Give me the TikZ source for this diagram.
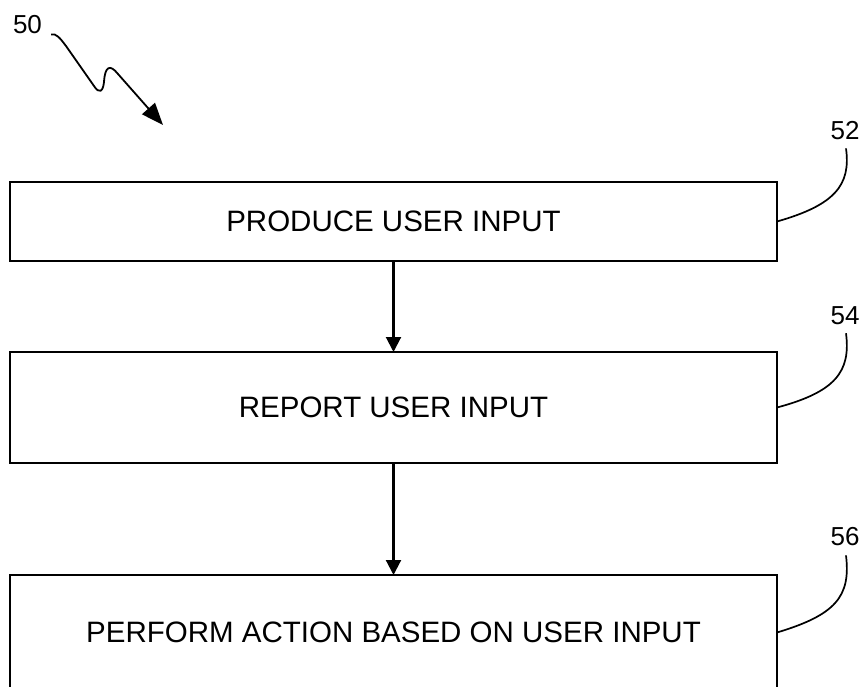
\documentclass[tikz,border=0pt]{standalone}
\usepackage{fontspec}
\setmainfont{Liberation Sans}
\usetikzlibrary{arrows.meta}
\begin{document}
\begin{tikzpicture}[x=1pt,y=-1pt,
  stepbox/.style={draw,line width=2.3pt,inner sep=0pt,outer sep=0pt,minimum width=767pt,
    font=\fontsize{29.5}{35}\selectfont},
  flowarrow/.style={line width=2.1pt,-{Triangle[length=15pt,width=15pt]}},
  leader/.style={line width=1.7pt},
  reflabel/.style={inner sep=0pt,font=\fontsize{26}{30}\selectfont}]
\path[fill=white] (0,0) rectangle (867,687);
\clip (0,0) rectangle (867,687);
\node[stepbox,minimum height=79pt] (b1) at (393.5,221.5) {PRODUCE USER INPUT};
\node[stepbox,minimum height=111pt] (b2) at (393.5,407.5) {REPORT USER INPUT};
\node[stepbox,minimum height=115pt] (b3) at (393.5,632.5) {PERFORM ACTION BASED ON USER INPUT};
\draw[flowarrow] (b1) -- (b2);
\draw[flowarrow] (b2) -- (b3);
\node[reflabel] (l50) at (27.5,24.5) {50};
\node[reflabel] (l52) at (845,131) {52};
\node[reflabel] (l54) at (845,316) {54};
\node[reflabel] (l56) at (845,537) {56};
\draw[leader] (b1.east) .. controls (835,205) and (851,185) .. ([shift={(1pt,-8pt)}]l52.south);
\draw[leader] (b2.east) .. controls (835,392) and (851,372) .. ([shift={(1pt,-8pt)}]l54.south);
\draw[leader] (b3.east) .. controls (835,615) and (851,597) .. ([shift={(1pt,-9pt)}]l56.south);
\coordinate (s0) at ([shift={(9pt,-10pt)}]l50.east);
\coordinate (tip) at (163,125);
\draw[line width=1.8pt,-{Triangle[length=22pt,width=17pt]}]
  (s0) .. controls (56,33) and (60,38) .. (66,46) -- (94,86)
  .. controls (99,94) and (103,92) .. (104,82)
  .. controls (105,66) and (110,64) .. (118,74) -- (tip);
\end{tikzpicture}
\end{document}
